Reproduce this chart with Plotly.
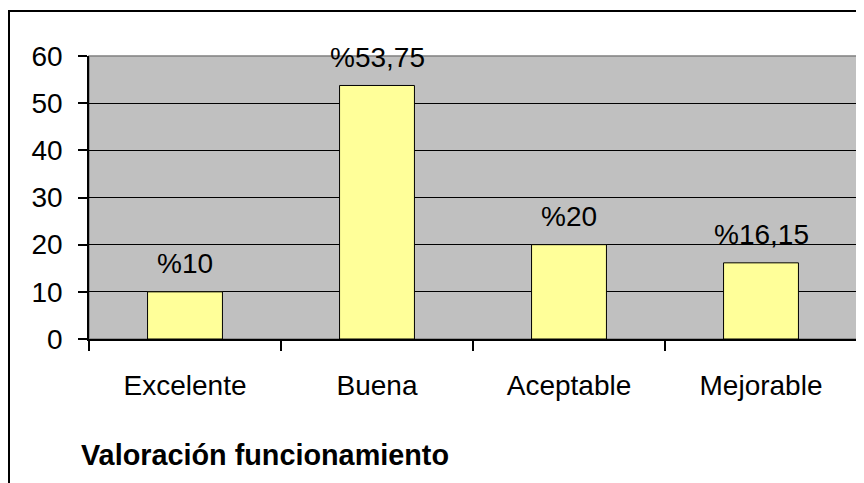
import plotly.graph_objects as go

# Valoración funcionamiento - porcentaje por categoría
categorias = ["Excelente", "Buena", "Aceptable", "Mejorable"]
valores = [10, 53.75, 20, 16.15]
etiquetas = ["%10", "%53,75", "%20", "%16,15"]
y_ticks = [0, 10, 20, 30, 40, 50, 60]

# the page body has an 8px margin, so the figure is drawn 8px in from the top-left
OFF = 8
W, H = 864 - OFF, 483 - OFF
L, R, T, B = 89 - OFF, 7, 56 - OFF, 144
pw, ph = W - L - R, H - T - B

fig = go.Figure()
fig.add_trace(go.Bar(
    x=categorias, y=valores,
    marker=dict(color="#FFFF99", line=dict(color="black", width=1)),
    hoverinfo="x+y",
))

# data labels above the bars
for c, v, t in zip(categorias, valores, etiquetas):
    fig.add_annotation(x=c, y=v, text=t, showarrow=False,
                       yanchor="middle", yshift=28,
                       font=dict(size=28, color="black"))

# chart title at the bottom left
fig.add_annotation(xref="paper", yref="paper", x=(79 - 89) / pw, y=(283 - (455 - 56)) / ph,
                   xanchor="left", yanchor="middle", showarrow=False,
                   text="<b>Valoración funcionamiento</b>",
                   font=dict(size=28.8, color="black"))

# gray plot-area border (top and right)
fig.add_shape(type="rect", xref="paper", yref="paper", x0=0, x1=1, y0=0, y1=1,
              line=dict(color="#808080", width=1.5), layer="below")
# outer chart border
fig.add_shape(type="rect", xref="paper", yref="paper",
              x0=(9 - 89) / pw, x1=1.2, y0=-1, y1=1 + (56 - 11) / ph,
              line=dict(color="black", width=2))

fig.update_layout(
    width=W, height=H,
    margin=dict(l=L, r=R, t=T, b=B),
    paper_bgcolor="white", plot_bgcolor="#C0C0C0",
    font=dict(family="Arial, Liberation Sans, sans-serif", size=28, color="black"),
    bargap=0.61, showlegend=False,
)
fig.update_xaxes(
    showline=True, linecolor="black", linewidth=1.5,
    ticks="outside", tickson="boundaries", ticklen=10, tickcolor="black", tickwidth=1.5,
    ticklabelstandoff=21, showgrid=False,
)
fig.update_yaxes(
    range=[0, 60], tickvals=y_ticks, showline=True, linecolor="black", linewidth=1.5,
    ticks="outside", ticklen=9, tickcolor="black", tickwidth=1.5,
    showgrid=True, gridcolor="black", gridwidth=1, zeroline=False,
    ticklabelstandoff=10,
)

fig.write_html("out.html")
